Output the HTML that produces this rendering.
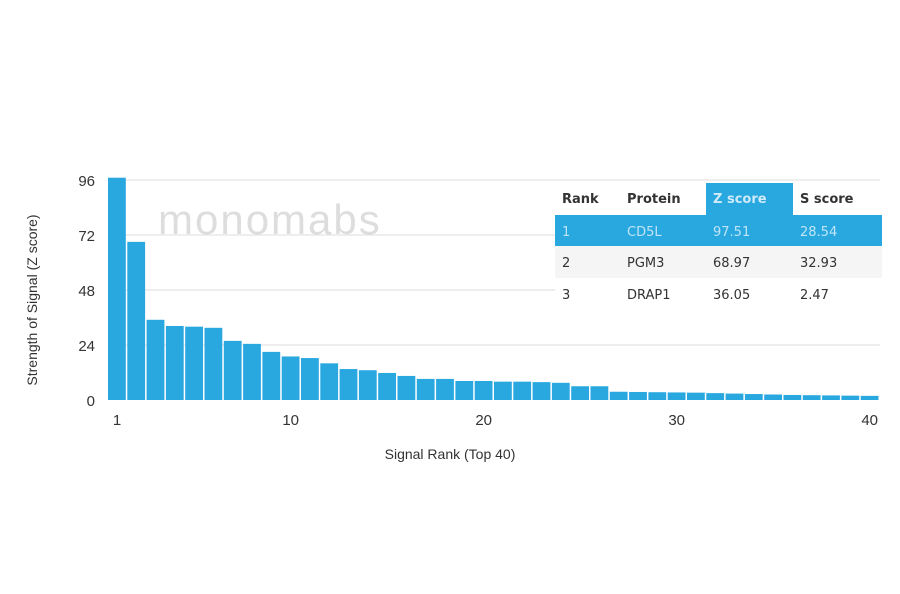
<!DOCTYPE html>
<html><head><meta charset="utf-8"><style>
body{margin:0;background:#fff;width:900px;height:594px;overflow:hidden;font-family:"Liberation Sans",sans-serif}
svg{position:absolute;left:0;top:0}
</style></head><body>
<svg width="900" height="594" id="c">
<text x="158" y="234" font-size="42" fill="#ddd" font-family="Liberation Sans" letter-spacing="2">monomabs</text>
<g id="grid"></g><g id="bars"></g><g id="ticks"></g>
<text x="450" y="459" font-size="14" text-anchor="middle" fill="#333">Signal Rank (Top 40)</text>
<text transform="translate(37,300) rotate(-90)" font-size="14" text-anchor="middle" fill="#333">Strength of Signal (Z score)</text>
<g font-size="13" font-family="DejaVu Sans, sans-serif">
<rect x="706" y="183" width="87" height="32" fill="#29a8e0"/>
<rect x="555" y="215" width="327" height="31" fill="#29a8e0"/>
<rect x="555" y="246" width="327" height="32" fill="#f5f5f5"/>
<rect x="555" y="278" width="327" height="32" fill="#fff"/>
<g font-weight="bold" fill="#333"><text x="562" y="203">Rank</text><text x="627" y="203">Protein</text><text x="713" y="203" fill="#cfeaf8">Z score</text><text x="800" y="203">S score</text></g>
<g fill="#bfe4f7"><text x="562" y="236">1</text><text x="627" y="236">CD5L</text><text x="713" y="236">97.51</text><text x="800" y="236">28.54</text></g>
<g fill="#333"><text x="562" y="267">2</text><text x="627" y="267">PGM3</text><text x="713" y="267">68.97</text><text x="800" y="267">32.93</text></g>
<g fill="#333"><text x="562" y="299">3</text><text x="627" y="299">DRAP1</text><text x="713" y="299">36.05</text><text x="800" y="299">2.47</text></g>
</g>
</svg>
<script>
const ranks=[];for(let i=1;i<=40;i++)ranks.push(i);
const zScores=[97.5,69,35,32.3,32,31.5,25.8,24.5,21,19,18.3,16,13.5,13,11.8,10.5,9.2,9.2,8.3,8.3,8,8,7.8,7.5,6,6,3.6,3.5,3.4,3.3,3.2,3,2.8,2.6,2.4,2.2,2.1,2,1.9,1.8];
const yTicks=[0,24,48,72,96];
const xTicks=[1,10,20,30,40];
const NS="http://www.w3.org/2000/svg";
const y=v=>400-Math.min(v,97)*220/96;
const x=r=>108+(r-1)*19.3;
const g=document.getElementById('grid'),b=document.getElementById('bars'),t=document.getElementById('ticks');
function mk(tag,a,p){const e=document.createElementNS(NS,tag);for(const k in a)e.setAttribute(k,a[k]);p.appendChild(e);return e;}
yTicks.forEach(v=>{
 if(v>0){const l=mk('line',{x1:108,x2:880,y1:y(v),y2:y(v),stroke:'#ddd','stroke-width':1},g);
 
 }
 const tx=mk('text',{x:95,y:y(v)+6,'font-size':15,'text-anchor':'end',fill:'#333'},t);tx.textContent=v;
 
 
});
xTicks.forEach(v=>{
 const tx=mk('text',{x:x(v)+9,y:425,'font-size':15,'text-anchor':'middle',fill:'#333'},t);tx.textContent=v;
 
 
});
ranks.forEach((r,i)=>{
 const rc=mk('rect',{x:x(r),y:y(zScores[i]),width:17.8,height:400-y(zScores[i]),fill:'#29a8e0'},b);
 
 
});
</script>
</body></html>
